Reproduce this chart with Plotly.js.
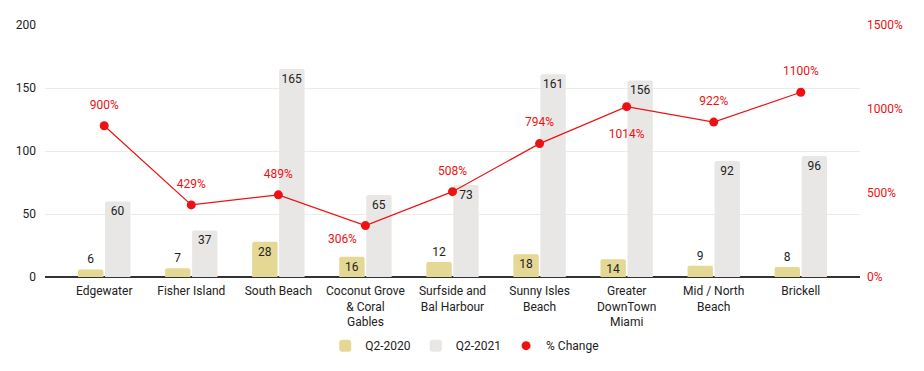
<!DOCTYPE html>
<html>
<head>
<meta charset="utf-8">
<script src="https://cdn.plot.ly/plotly-3.0.1.min.js"></script>
<style>html,body{margin:0;padding:0;background:#fff;}#chart{width:924px;height:371px;}</style>
</head>
<body>
<div id="chart"></div>
<script>
const categories = ["Edgewater", "Fisher Island", "South Beach", "Coconut Grove<br>& Coral<br>Gables", "Surfside and<br>Bal Harbour", "Sunny Isles<br>Beach", "Greater<br>DownTown<br>Miami", "Mid / North<br>Beach", "Brickell"];
const q2020 = [6, 7, 28, 16, 12, 18, 14, 9, 8];
const q2021 = [60, 37, 165, 65, 73, 161, 156, 92, 96];
const pctChange = [900, 429, 489, 306, 508, 794, 1014, 922, 1100];
const pctLabelPos = ["top center", "top center", "top center", "bottom left", "top center", "top center", "bottom center", "top center", "top center"];
const q2020LabelPos = ["outside", "outside", "inside", "inside", "outside", "inside", "inside", "outside", "outside"];

const font = "Roboto, Arial, sans-serif";
const red = "#ee1111";
const labelGap = pctLabelPos.map(p => p === "top center" ? 21 : (p === "bottom left" ? 12 : 34));

const traces = [
  {
    type: "bar", name: "Q2-2020", x: categories, y: q2020,
    text: q2020.map(String), textposition: q2020LabelPos, insidetextanchor: "end", textangle: 0,
    textfont: {family: font, size: 12, color: "#222"}, constraintext: "none", cliponaxis: false,
    marker: {color: "#e5d894", cornerradius: 2}, hoverinfo: "skip"
  },
  {
    type: "bar", name: "Q2-2021", x: categories, y: q2021,
    text: q2021.map(String), textposition: "inside", insidetextanchor: "end", textangle: 0,
    textfont: {family: font, size: 12, color: "#222"}, constraintext: "none",
    marker: {color: "#e8e7e5", cornerradius: 2}, hoverinfo: "skip"
  },
  {
    type: "scatter", mode: "lines", name: "% Change line", x: categories, y: pctChange, yaxis: "y2",
    line: {color: red, width: 1.2}, showlegend: false, hoverinfo: "skip"
  },
  {
    type: "scatter", mode: "markers", name: "% Change", x: categories, y: pctChange, yaxis: "y2",
    marker: {color: red, size: 9}, hoverinfo: "skip"
  },
  {
    type: "scatter", mode: "markers+text", name: "% Change labels", x: categories, y: pctChange, yaxis: "y2",
    marker: {size: labelGap, color: red, opacity: 0, line: {width: 0}}, text: pctChange.map(v => v + "%"), textposition: pctLabelPos,
    textfont: {family: font, size: 12, color: red}, cliponaxis: false, showlegend: false, hoverinfo: "skip"
  }
];

const layout = {
  width: 924, height: 371,
  margin: {l: 45, r: 64, t: 25, b: 93},
  paper_bgcolor: "#fff", plot_bgcolor: "#fff",
  font: {family: font, size: 12, color: "#222"},
  barmode: "group", bargap: 0.38, bargroupgap: 0.06,
  showlegend: true,
  legend: {orientation: "h", x: 0.515, xanchor: "center", y: -0.21, yanchor: "top",
           font: {family: font, size: 12, color: "#222"}, itemwidth: 30, traceorder: "normal"},
  xaxis: {type: "category", range: [-0.68, 8.68], showgrid: false, ticks: "", tickfont: {size: 12, color: "#222"},
          showline: false, zeroline: false, ticklabelstandoff: 5},
  yaxis: {range: [0, 200], dtick: 50, showgrid: true, gridcolor: "#ebebeb", gridwidth: 1,
          zeroline: true, zerolinecolor: "#333", zerolinewidth: 1.3, tickfont: {size: 12, color: "#222"},
          ticklabelstandoff: 8, fixedrange: true},
  yaxis2: {range: [0, 1500], dtick: 500, overlaying: "y", side: "right", showgrid: false, zeroline: false,
           ticksuffix: "%", tickfont: {size: 12, color: red}, ticklabelstandoff: 6},
  hovermode: false
};

Plotly.newPlot("chart", traces, layout, {displayModeBar: false, staticPlot: true});
</script>
</body>
</html>
